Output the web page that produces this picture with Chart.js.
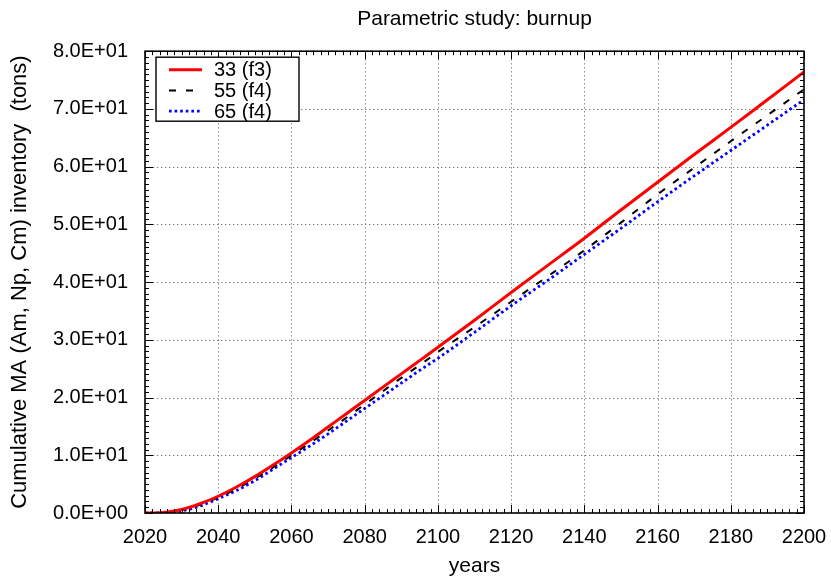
<!DOCTYPE html>
<html>
<head>
<meta charset="utf-8">
<script src="https://cdn.jsdelivr.net/npm/chart.js@4.4.1/dist/chart.umd.min.js"></script>
<style>
  html, body { margin: 0; padding: 0; background: #ffffff; }
  #wrap { width: 831px; height: 581px; }
</style>
</head>
<body>
<div id="wrap"><canvas id="c" width="831" height="581"></canvas></div>
<script>
// Cumulative minor-actinide inventory (tons) per year, for three burnups
const years = [2020, 2025, 2030, 2035, 2040, 2045, 2050, 2055, 2060, 2065, 2070, 2075, 2080,
               2085, 2090, 2095, 2100, 2110, 2120, 2130, 2140, 2150, 2160, 2170, 2180, 2190, 2200];
const burnup33 = [0.0, 0.1, 0.6, 1.6, 2.9, 4.5, 6.3, 8.3, 10.4, 12.6, 14.9, 17.2, 19.5,
                  21.8, 24.1, 26.4, 28.7, 33.4, 38.2, 42.9, 47.6, 52.5, 57.3, 62.1, 66.8, 71.6, 76.4];
const burnup55 = [0.0, 0.05, 0.5, 1.4, 2.7, 4.2, 6.0, 7.9, 10.0, 12.1, 14.3, 16.5, 18.8,
                  21.1, 23.4, 25.6, 27.9, 32.2, 36.6, 41.0, 45.5, 50.3, 55.2, 59.8, 64.4, 68.9, 73.4];
const burnup65 = [0.0, 0.0, 0.35, 1.2, 2.5, 3.9, 5.6, 7.6, 9.6, 11.6, 13.7, 15.9, 18.1,
                  20.3, 22.5, 24.7, 26.8, 31.3, 35.9, 40.3, 44.8, 49.3, 53.9, 58.4, 62.8, 67.2, 71.6];
const seriesLabels = ['33 (f3)', '55 (f4)', '65 (f4)'];
const xTickValues = [2020, 2040, 2060, 2080, 2100, 2120, 2140, 2160, 2180, 2200];
const yTickValues = [0, 10, 20, 30, 40, 50, 60, 70, 80];

const FONT = "'Liberation Sans', Arial, Helvetica, sans-serif";
const toPoints = vals => years.map((yr, i) => ({ x: yr, y: vals[i] }));

// Dotted grid behind the curves
const gridPlugin = {
  id: 'dottedGrid',
  beforeDatasetsDraw(chart) {
    const { ctx, chartArea: a, scales: { x, y } } = chart;
    ctx.save();
    ctx.strokeStyle = '#7a7a7a';
    ctx.lineWidth = 1;
    ctx.setLineDash([1.3, 2.7]);
    xTickValues.slice(1, -1).forEach(v => {
      const px = Math.round(x.getPixelForValue(v)) + 0.5;
      ctx.beginPath(); ctx.moveTo(px, a.top); ctx.lineTo(px, a.bottom); ctx.stroke();
    });
    yTickValues.slice(1, -1).forEach(v => {
      const py = Math.round(y.getPixelForValue(v)) + 0.5;
      ctx.beginPath(); ctx.moveTo(a.left, py); ctx.lineTo(a.right, py); ctx.stroke();
    });
    ctx.restore();
  },
  // Frame with inward major and minor ticks on all four sides
  afterDatasetsDraw(chart) {
    const { ctx, chartArea: a, scales: { x, y } } = chart;
    ctx.save();
    ctx.setLineDash([]);
    ctx.strokeStyle = '#000';
    ctx.lineWidth = 1;
    for (let v = 2020; v <= 2200; v += 2) {
      const px = Math.round(x.getPixelForValue(v)) + 0.5;
      const len = (v - 2020) % 20 === 0 ? 8 : 4;
      ctx.beginPath();
      ctx.moveTo(px, a.bottom); ctx.lineTo(px, a.bottom - len);
      ctx.moveTo(px, a.top); ctx.lineTo(px, a.top + len);
      ctx.stroke();
    }
    for (let v = 0; v <= 80; v += 1) {
      const py = Math.round(y.getPixelForValue(v)) + 0.5;
      const len = v % 10 === 0 ? 8 : 4;
      ctx.beginPath();
      ctx.moveTo(a.left, py); ctx.lineTo(a.left + len, py);
      ctx.moveTo(a.right, py); ctx.lineTo(a.right - len, py);
      ctx.stroke();
    }
    ctx.lineWidth = 1.6;
    ctx.strokeRect(a.left, a.top, a.right - a.left, a.bottom - a.top);
    ctx.restore();
  }
};

// Boxed key in the upper-left corner of the plot
const keyPlugin = {
  id: 'boxedKey',
  afterDraw(chart) {
    const { ctx, chartArea: a } = chart;
    const left = a.left + 11, top = a.top + 6, w = 143, h = 64;
    ctx.save();
    ctx.fillStyle = '#fff';
    ctx.fillRect(left, top, w, h);
    ctx.strokeStyle = '#000';
    ctx.lineWidth = 1.4;
    ctx.setLineDash([]);
    ctx.strokeRect(left, top, w, h);
    chart.data.datasets.forEach((ds, i) => {
      const cy = top + 12.5 + i * 20.7;
      ctx.strokeStyle = ds.borderColor;
      ctx.lineWidth = ds.borderWidth;
      ctx.setLineDash(ds.borderDash || []);
      ctx.beginPath();
      ctx.moveTo(left + 13, cy); ctx.lineTo(left + 46, cy);
      ctx.stroke();
      ctx.setLineDash([]);
      ctx.fillStyle = '#000';
      ctx.font = '20px ' + FONT;
      ctx.textBaseline = 'middle';
      ctx.textAlign = 'left';
      ctx.fillText(ds.label, left + 58, cy + 1);
    });
    ctx.restore();
  }
};

new Chart(document.getElementById('c'), {
  type: 'line',
  data: {
    datasets: [
      { label: seriesLabels[0], data: toPoints(burnup33), borderColor: '#ff0000', borderWidth: 3,
        borderDash: [], pointRadius: 0, cubicInterpolationMode: 'monotone' },
      { label: seriesLabels[1], data: toPoints(burnup55), borderColor: '#000000', borderWidth: 2,
        borderDash: [7, 10], pointRadius: 0, cubicInterpolationMode: 'monotone' },
      { label: seriesLabels[2], data: toPoints(burnup65), borderColor: '#0000ff', borderWidth: 2.8,
        borderDash: [2.6, 3], pointRadius: 0, cubicInterpolationMode: 'monotone' }
    ]
  },
  options: {
    responsive: false,
    animation: false,
    devicePixelRatio: 1,
    layout: { padding: { left: 0, right: 27, top: 0, bottom: 0 } },
    plugins: {
      legend: { display: false },
      tooltip: { enabled: false },
      title: {
        display: true,
        fullSize: false,
        text: 'Parametric study: burnup',
        color: '#000',
        font: { family: FONT, size: 21, weight: 'normal' },
        padding: { top: 7, bottom: 19 }
      }
    },
    scales: {
      x: {
        type: 'linear',
        min: 2020, max: 2200,
        afterBuildTicks: s => { s.ticks = xTickValues.map(v => ({ value: v })); },
        afterFit: s => { s.height = 68; s.paddingLeft = 0; s.paddingRight = 0; },
        grid: { display: false, drawTicks: false },
        border: { display: false },
        ticks: { color: '#000', padding: 12, font: { family: FONT, size: 20 }, maxRotation: 0,
                 callback: v => String(v) },
        title: { display: true, text: 'years', color: '#000', padding: { top: 0, bottom: 2 },
                 font: { family: FONT, size: 21 } }
      },
      y: {
        type: 'linear',
        min: 0, max: 80,
        afterBuildTicks: s => { s.ticks = yTickValues.map(v => ({ value: v })); },
        afterFit: s => { s.width = 145; s.paddingTop = 0; s.paddingBottom = 0; },
        grid: { display: false, drawTicks: false },
        border: { display: false },
        ticks: { color: '#000', padding: 17, font: { family: FONT, size: 20 },
                 callback: v => Number(v).toExponential(1).toUpperCase().replace(/E\+(\d)$/, 'E+0$1').replace(/E-(\d)$/, 'E-0$1') },
        title: { display: true, text: 'Cumulative MA (Am, Np, Cm) inventory  (tons)', color: '#000',
                 padding: { top: 7, bottom: 0 }, font: { family: FONT, size: 22 } }
      }
    }
  },
  plugins: [gridPlugin, keyPlugin]
});
</script>
</body>
</html>
